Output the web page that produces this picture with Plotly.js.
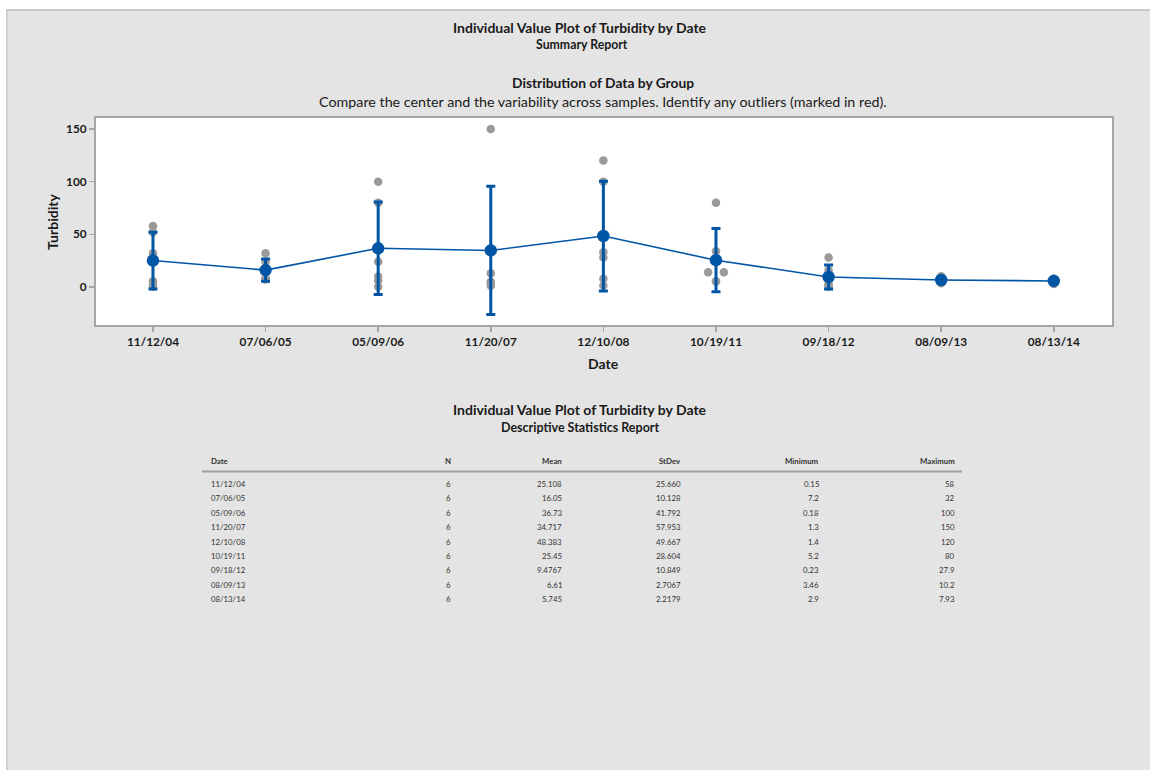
<!DOCTYPE html>
<html>
<head>
<meta charset="utf-8">
<script src="https://cdn.plot.ly/plotly-3.0.1.min.js"></script>
<style>
  html, body { margin:0; padding:0; background:#ffffff; }
  #panel { position:absolute; left:6px; top:9px; width:1144px; height:761px;
           background:#e4e4e4; border-top:2px solid #c9c9c9; border-left:2px solid #cfcfcf; box-sizing:border-box; }
  #chart { position:absolute; left:0; top:0; width:1150px; height:770px; }
</style>
</head>
<body>
<div id="panel"></div>
<div id="chart"></div>
<script>
// ---------------- DATA ----------------
const dates = ["11/12/04","07/06/05","05/09/06","11/20/07","12/10/08","10/19/11","09/18/12","08/09/13","08/13/14"];
const statN      = ["6","6","6","6","6","6","6","6","6"];
const statMean   = ["25.108","16.05","36.73","34.717","48.383","25.45","9.4767","6.61","5.745"];
const statStdev  = ["25.660","10.128","41.792","57.953","49.667","28.604","10.849","2.7067","2.2179"];
const statMin    = ["0.15","7.2","0.18","1.3","1.4","5.2","0.23","3.46","2.9"];
const statMax    = ["58","32","100","150","120","80","27.9","10.2","7.93"];

const obs_111204 = [58, 52, 32, 5.5, 3, 0.15];
const obs_070605 = [32, 24, 17, 8.5, 7.6, 7.2];
const obs_050906 = [100, 80, 24, 10, 6.2, 0.18];
const obs_112007 = [150, 35, 13, 5, 4, 1.3];
const obs_121008 = [120, 100, 33, 28, 7.9, 1.4];
const obs_101911 = [80, 34, 14, 14, 5.5, 5.2];
const obs_091812 = [27.9, 16, 8, 2.5, 2.23, 0.23];
const obs_080913 = [10.2, 9.5, 6, 5.5, 5, 3.46];
const obs_081314 = [7.93, 7.8, 7, 5.5, 3.34, 2.9];
const observations = [obs_111204, obs_070605, obs_050906, obs_112007, obs_121008, obs_101911, obs_091812, obs_080913, obs_081314];

// 95% CI for the mean (t(0.975,5) = 2.5706, n = 6)
const tCrit = 2.5706;
const means = statMean.map(Number);
const ciHalf = statStdev.map((s, i) => tCrit * Number(s) / Math.sqrt(Number(statN[i])));

// ---------------- LAYOUT HELPERS ----------------
const L = 96, R = 1112, T = 118, B = 325, W = 1150, H = 770;
const px = x => (x - L) / (R - L);
const py = y => (B - y) / (B - T);
const FONT = "Lato, 'Open Sans', sans-serif";
const BLUE = "#0055a5";
const JIT = 0.07;

// jitter exactly tied values horizontally (pairs spread left / right)
const ptsX = [], ptsY = [];
observations.forEach((vals, g) => {
  const start = ptsX.length;
  const firstIdx = {};
  vals.forEach((v, j) => {
    const k = v.toFixed(3);
    let off = 0;
    if (k in firstIdx) {
      ptsX[start + firstIdx[k]] = g - JIT;
      off = JIT;
    } else {
      firstIdx[k] = j;
    }
    ptsX.push(g + off);
    ptsY.push(v);
  });
});

const idx = dates.map((d, i) => i);

const traces = [
  {
    type: "scatter", mode: "markers", x: ptsX, y: ptsY,
    marker: { color: "#9a9a9a", size: 8.5 }, hoverinfo: "y", showlegend: false
  },
  {
    type: "scatter", mode: "lines+markers", x: idx, y: means,
    line: { color: BLUE, width: 1.6 },
    marker: { color: BLUE, size: 12.5 },
    error_y: { type: "data", array: ciHalf, visible: true, color: BLUE, thickness: 3, width: 4.5 },
    showlegend: false
  }
];

// ---------------- ANNOTATIONS ----------------
const ann = [];
function txt(text, x, y, size, opts) {
  opts = opts || {};
  ann.push({
    text: text, xref: "paper", yref: "paper", x: px(x), y: py(y),
    xanchor: opts.xa || "center", yanchor: "middle", showarrow: false,
    textangle: opts.angle || 0,
    font: { family: FONT, size: size, color: opts.color || "#1a1a1a", weight: opts.bold ? "bold" : "normal" }
  });
}
txt("Individual Value Plot of Turbidity by Date", 580, 27, 14, { bold: true });
txt("Summary Report", 582, 44, 12.3, { bold: true });
txt("Distribution of Data by Group", 603, 83, 13.8, { bold: true });
txt("Compare the center and the variability across samples. Identify any outliers (marked in red).", 603, 101, 14.3);
txt("Turbidity", 52, 222, 14, { bold: true, angle: -90 });
txt("Date", 603, 363, 14, { bold: true });

txt("Individual Value Plot of Turbidity by Date", 580, 409, 14, { bold: true });
txt("Descriptive Statistics Report", 580, 427, 12.5, { bold: true });

// table
const colDefs = [
  { head: "Date", data: dates, x: 209, xa: "left" },
  { head: "N", data: statN, x: 448, xa: "center" },
  { head: "Mean", data: statMean, x: 564, xa: "right" },
  { head: "StDev", data: statStdev, x: 683, xa: "right" },
  { head: "Minimum", data: statMin, x: 821, xa: "right" },
  { head: "Maximum", data: statMax, x: 957, xa: "right" }
];
const headY = 461, rowY0 = 484, rowStep = 14.4;
colDefs.forEach(c => {
  txt(c.head, c.x, headY, 7.8, { bold: true, xa: c.xa, color: "#333333" });
  c.data.forEach((v, i) => txt(v, c.x, rowY0 + i * rowStep, 7.8, { xa: c.xa, color: "#333333" }));
});

const shapes = [
  { type: "line", xref: "paper", yref: "paper", x0: px(202), x1: px(962), y0: py(471.5), y1: py(471.5),
    line: { color: "#a0a0a0", width: 2 } }
];

const layout = {
  width: W, height: H,
  margin: { l: L, r: W - R, t: T, b: H - B, pad: 0 },
  paper_bgcolor: "rgba(0,0,0,0)",
  plot_bgcolor: "#ffffff",
  font: { family: FONT },
  showlegend: false,
  xaxis: {
    range: [-0.506, 8.517], tickmode: "array", tickvals: idx, ticktext: dates,
    showgrid: false, zeroline: false, showline: true, mirror: true,
    linecolor: "#a6a6a6", linewidth: 2,
    ticks: "outside", ticklen: 5, tickcolor: "#a6a6a6", tickwidth: 1.5,
    tickfont: { family: FONT, size: 11.8, color: "#1a1a1a", weight: "bold" }
  },
  yaxis: {
    range: [-36.08, 160.44], tickmode: "array", tickvals: [0, 50, 100, 150],
    showgrid: false, zeroline: false, showline: true, mirror: true,
    linecolor: "#a6a6a6", linewidth: 2,
    ticks: "outside", ticklen: 5, tickcolor: "#a6a6a6", tickwidth: 1.5,
    tickfont: { family: FONT, size: 11.8, color: "#1a1a1a", weight: "bold" }
  },
  annotations: ann,
  shapes: shapes
};

Plotly.newPlot("chart", traces, layout, { displayModeBar: false, staticPlot: true });
</script>
</body>
</html>
